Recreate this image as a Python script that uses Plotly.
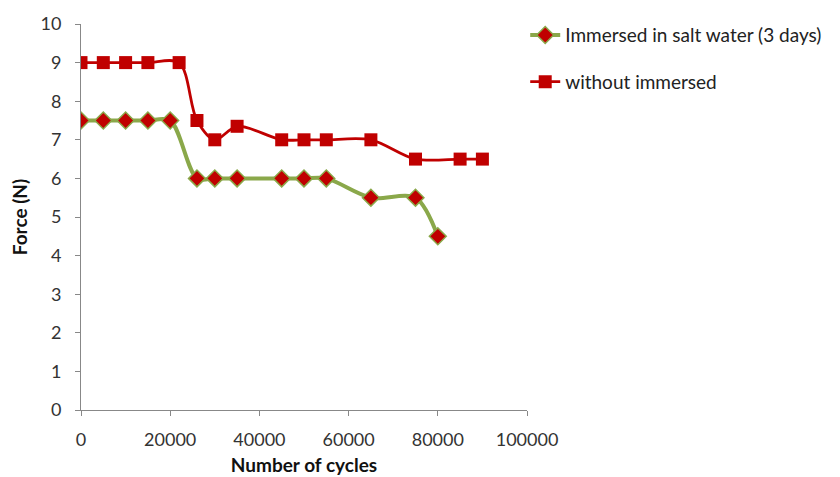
import plotly.graph_objects as go

x_immersed = [0, 5000, 10000, 15000, 20000, 26000, 30000, 35000, 45000, 50000, 55000, 65000, 75000, 80000]
y_immersed = [7.5, 7.5, 7.5, 7.5, 7.5, 6, 6, 6, 6, 6, 6, 5.5, 5.5, 4.5]

x_without = [0, 5000, 10000, 15000, 22000, 26000, 30000, 35000, 45000, 50000, 55000, 65000, 75000, 85000, 90000]
y_without = [9, 9, 9, 9, 9, 7.5, 7, 7.35, 7, 7, 7, 7, 6.5, 6.5, 6.5]

name_immersed = "Immersed in salt water (3 days)"
name_without = "without immersed"

FONT = "Lato, 'Open Sans', sans-serif"

fig = go.Figure()
fig.add_trace(go.Scatter(
    x=x_immersed, y=y_immersed, name=name_immersed, mode="lines+markers",
    line=dict(color="#8aa84a", width=4, shape="spline", smoothing=0.9),
    marker=dict(symbol="diamond", size=13, color="#c00000",
                line=dict(color="#8aa84a", width=1.5)),
    legendgroup="a",
))
fig.add_trace(go.Scatter(
    x=x_without, y=y_without, name=name_without, mode="lines+markers",
    line=dict(color="#c00000", width=2.8, shape="spline", smoothing=0.9),
    marker=dict(symbol="square", size=13, color="#c00000"),
    legendgroup="b",
))

fig.update_layout(
    width=832, height=469,
    margin=dict(l=73, r=313, t=8, b=67),
    paper_bgcolor="white", plot_bgcolor="white",
    font=dict(family=FONT, size=18, color="#333333"),
    legend=dict(x=0.996, y=1.0203, xanchor="left", yanchor="top",
                font=dict(size=19, color="#222222"), tracegroupgap=19,
                bgcolor="rgba(0,0,0,0)"),
    xaxis=dict(range=[0, 100000], tickvals=[0, 20000, 40000, 60000, 80000, 100000],
               tickformat="d", showgrid=False, zeroline=False,
               showline=True, linecolor="#888888", linewidth=1,
               ticks="outside", ticklen=5, tickcolor="#888888",
               ticklabelstandoff=8, automargin=False,
               title=dict(text="<b>Number of cycles</b>", font=dict(size=19, color="#111111"), standoff=10)),
    yaxis=dict(range=[0, 10], dtick=1, showgrid=False, zeroline=False,
               showline=True, linecolor="#888888", linewidth=1,
               ticks="outside", ticklen=5, tickcolor="#888888",
               ticklabelstandoff=10, automargin=False,
               title=dict(text="<b>Force (N)</b>", font=dict(size=19, color="#111111"), standoff=8)),
)

fig.write_html("out.html")
